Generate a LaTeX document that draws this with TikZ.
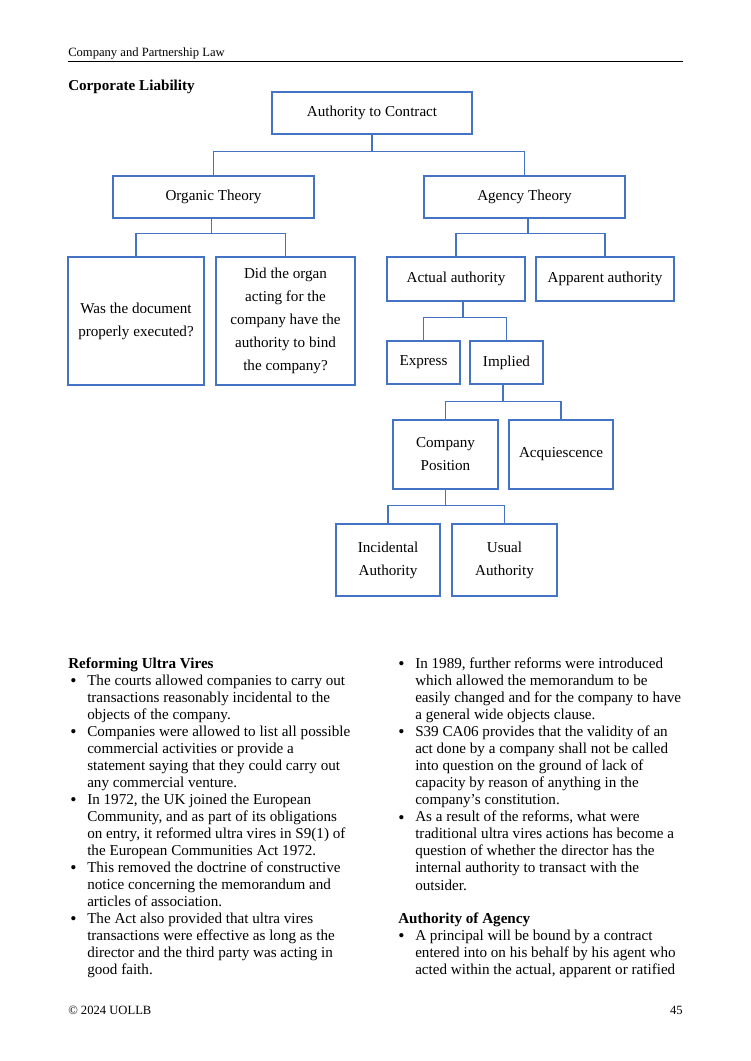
\documentclass[tikz,border=0pt]{standalone}
\usepackage{fontspec}
\setmainfont{Liberation Serif}
\usetikzlibrary{calc}
\definecolor{boxblue}{HTML}{4472C4}
\newcommand{\tb}[6]{\node[box, minimum width=#4*0.7933pt, minimum height=#5*0.7933pt] (#1) at (#2,#3) {#6};}
\begin{document}
\begin{tikzpicture}[x=0.7933pt,y=-0.7933pt,
  box/.style={draw=boxblue, line width=1.1pt, inner sep=0pt, align=center, font=\fontsize{12}{18.25}\selectfont},
  link/.style={draw=boxblue, line width=1.25pt},
  body/.style={inner sep=0pt, anchor=base west, font=\fontsize{12}{14}\selectfont},
  bul/.style={inner sep=0pt, anchor=base, font=\fontsize{14}{14}\selectfont},
  small/.style={inner sep=0pt, anchor=base west, font=\fontsize{10}{12}\selectfont},
  head/.style={inner sep=0pt, anchor=base west, font=\bfseries\fontsize{12}{14}\selectfont}]
\fill[white] (0,0) rectangle (750,1061);
\useasboundingbox (0,0) rectangle (750,1061);

% page header
\node[small] (hdr) at (68,57) {Company and Partnership Law};
\draw[line width=0.75pt] (68,61.5) -- (683,61.5);
\node[head] (title) at (68,90) {Corporate Liability};

% tree boxes
\tb{auth}{372}{113}{200}{42}{Authority to Contract}
\tb{org}{213.5}{197}{201}{42}{Organic Theory}
\tb{agy}{524.5}{197}{201}{42}{Agency Theory}
\tb{was}{136}{321}{136}{128}{Was the document\\properly executed?}
\tb{did}{285.5}{321}{139}{128}{Did the organ\\acting for the\\company have the\\authority to bind\\the company?}
\tb{act}{456}{279}{138}{44}{Actual authority}
\tb{app}{605}{279}{138}{44}{Apparent authority}
\tb{exp}{423.5}{362.5}{73}{43}{Express}
\tb{imp}{506.5}{362.5}{73}{43}{Implied}
\tb{cp}{445.5}{454.5}{105}{69}{Company\\Position}
\tb{acq}{561}{454.5}{104}{69}{Acquiescence}
\tb{inc}{388}{560}{104}{72}{Incidental\\Authority}
\tb{usu}{504.5}{560}{105}{72}{Usual\\Authority}

% connectors
\draw[link] (auth.south) -- ++(0,17) coordinate (j1);
\draw[link] (org.north) |- (j1) -| (agy.north);
\draw[link] ($(org.south)+(-2,0)$) -- ++(0,15) coordinate (j2);
\draw[link] (was.north) |- (j2) -| (did.north);
\draw[link] ($(agy.south)+(3.5,0)$) -- ++(0,15) coordinate (j3);
\draw[link] (act.north) |- (j3) -| (app.north);
\draw[link] ($(act.south)+(7,0)$) -- ++(0,16) coordinate (j4);
\draw[link] (exp.north) |- (j4) -| (imp.north);
\draw[link] ($(imp.south)+(-3.5,0)$) -- ++(0,17) coordinate (j5);
\draw[link] (cp.north) |- (j5) -| (acq.north);
\draw[link] (cp.south) -- ++(0,16) coordinate (j6);
\draw[link] (inc.north) |- (j6) -| (usu.north);

% left column
\node[head] (h1) at (68,668) {Reforming Ultra Vires};
\foreach \t [count=\i from 0] in {
  {The courts allowed companies to carry out},
  {transactions reasonably incidental to the},
  {objects of the company.},
  {Companies were allowed to list all possible},
  {commercial activities or provide a},
  {statement saying that they could carry out},
  {any commercial venture.},
  {In 1972, the UK joined the European},
  {Community, and as part of its obligations},
  {on entry, it reformed ultra vires in S9(1) of},
  {the European Communities Act 1972.},
  {This removed the doctrine of constructive},
  {notice concerning the memorandum and},
  {articles of association.},
  {The Act also provided that ultra vires},
  {transactions were effective as long as the},
  {director and the third party was acting in},
  {good faith.}}
  \node[body] (L\i) at (87,685+17*\i) {\t};
\foreach \i in {0,3,7,11,14}
  \node[bul] (LB\i) at (73.5,686.5+17*\i) {\textbullet};

% right column
\foreach \t [count=\i from 0] in {
  {In 1989, further reforms were introduced},
  {which allowed the memorandum to be},
  {easily changed and for the company to have},
  {a general wide objects clause.},
  {S39 CA06 provides that the validity of an},
  {act done by a company shall not be called},
  {into question on the ground of lack of},
  {capacity by reason of anything in the},
  {company’s constitution.},
  {As a result of the reforms, what were},
  {traditional ultra vires actions has become a},
  {question of whether the director has the},
  {internal authority to transact with the},
  {outsider.}}
  \node[body] (R\i) at (415,668+17.08*\i) {\t};
\foreach \i in {0,4,9}
  \node[bul] (RB\i) at (401.5,669.5+17.08*\i) {\textbullet};
\node[head] (h2) at (398,923) {Authority of Agency};
\foreach \t [count=\i from 0] in {
  {A principal will be bound by a contract},
  {entered into on his behalf by his agent who},
  {acted within the actual, apparent or ratified}}
  \node[body] (S\i) at (415,940+17.2*\i) {\t};
\node[bul] (SB0) at (401.5,941.5) {\textbullet};

% footer
\node[small] (foot) at (68,1014) {© 2024 UOLLB};
\node[small, anchor=base east] (pg) at (683,1014) {45};
\end{tikzpicture}
\end{document}
